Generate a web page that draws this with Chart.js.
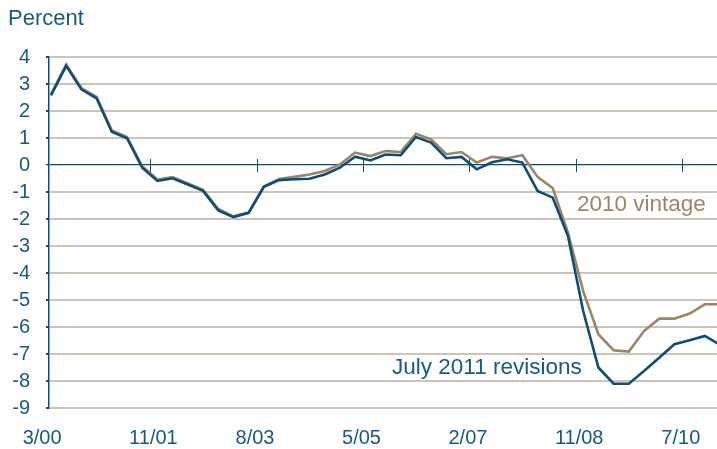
<!DOCTYPE html>
<html>
<head>
<meta charset="utf-8">
<script src="https://cdn.jsdelivr.net/npm/chart.js@4"></script>
<style>
  html, body { margin: 0; padding: 0; background: #fff; }
  #wrap { width: 717px; height: 449px; }
</style>
</head>
<body>
<div id="wrap"><canvas id="myChart" width="717" height="449"></canvas></div>
<script>
// 資料 (quarterly, index 0 = 3/00)
const revisions2011 = [2.58, 3.67, 2.80, 2.47, 1.23, 0.99, -0.10, -0.59, -0.49, -0.72,
  -0.96, -1.68, -1.93, -1.77, -0.81, -0.56, -0.53, -0.51, -0.35, -0.10,
  0.31, 0.17, 0.39, 0.36, 1.04, 0.83, 0.25, 0.30, -0.16, 0.10,
  0.21, 0.09, -0.96, -1.21, -2.63, -5.41, -7.50, -8.10, -8.10, -7.63,
  -7.14, -6.64, -6.49, -6.33, -6.66];
const vintage2010 = [2.62, 3.72, 2.85, 2.52, 1.28, 1.04, -0.05, -0.54, -0.45, -0.68,
  -0.92, -1.63, -1.90, -1.76, -0.80, -0.52, -0.44, -0.35, -0.22, 0.02,
  0.46, 0.33, 0.52, 0.48, 1.16, 0.95, 0.40, 0.48, 0.09, 0.30,
  0.25, 0.36, -0.44, -0.86, -2.50, -4.67, -6.27, -6.86, -6.91, -6.15,
  -5.69, -5.69, -5.50, -5.16, -5.16];
const xTickLabels = ['3/00', '11/01', '8/03', '5/05', '2/07', '11/08', '7/10'];
const xTickPos = [-0.48, 6.52, 13.52, 20.52, 27.52, 34.52, 41.52];
const yMin = -9;
const yMax = 4;

const blue = '#0d4d76';
const textBlue = '#175a85';
const tan = '#9c8567';
const gridTan = '#cdc3b9';
const font = '"Liberation Sans", Arial, sans-serif';

// 零線上的刻度 + 文字標註
const extras = {
  id: 'extras',
  beforeDatasetsDraw(chart) {
    const { ctx, chartArea, scales: { x, y } } = chart;
    const y0 = y.getPixelForValue(0);
    ctx.save();
    ctx.strokeStyle = blue;
    ctx.lineWidth = 1;
    xTickPos.forEach((v) => {
      const px = Math.round(x.getPixelForValue(v)) + 0.5;
      if (px <= chartArea.left + 2 || px > chartArea.right) return;
      ctx.beginPath();
      ctx.moveTo(px, y0 - 6);
      ctx.lineTo(px, y0 + 7);
      ctx.stroke();
    });
    ctx.restore();
  },
  afterDraw(chart) {
    const { ctx } = chart;
    ctx.save();
    ctx.textBaseline = 'middle';
    ctx.textAlign = 'left';
    ctx.fillStyle = textBlue;
    ctx.font = '22px ' + font;
    ctx.fillText('Percent', 8, 19);
    ctx.font = '22.5px ' + font;
    ctx.fillText('July 2011 revisions', 392, 368);
    ctx.fillStyle = tan;
    ctx.fillText('2010 vintage', 577, 205);
    ctx.restore();
  }
};

const ctx = document.getElementById('myChart').getContext('2d');
const chart = new Chart(ctx, {
  type: 'line',
  data: {
    datasets: [
      {
        label: 'July 2011 revisions',
        data: revisions2011.map((v, i) => ({ x: i, y: v })),
        borderColor: blue,
        borderWidth: 2.6,
        pointRadius: 0,
        tension: 0
      },
      {
        label: '2010 vintage',
        data: vintage2010.map((v, i) => ({ x: i, y: v })),
        borderColor: tan,
        borderWidth: 2.6,
        pointRadius: 0,
        tension: 0
      }
    ]
  },
  options: {
    responsive: false,
    animation: false,
    layout: { padding: { top: 57, left: 0, right: 0, bottom: 0 } },
    plugins: {
      legend: { display: false },
      tooltip: { enabled: false }
    },
    scales: {
      x: {
        type: 'linear',
        min: -0.13,
        max: 43.8,
        grid: { display: false },
        border: { display: false },
        afterBuildTicks: (scale) => {
          scale.ticks = xTickPos.map((v) => ({ value: v }));
        },
        afterFit: (scale) => {
          scale.height = 41;
          scale.paddingLeft = 0;
          scale.paddingRight = 0;
        },
        ticks: {
          autoSkip: false,
          maxRotation: 0,
          align: 'start',
          labelOffset: -21,
          padding: 10,
          color: textBlue,
          font: { family: font, size: 20 },
          callback: (v, i) => xTickLabels[i]
        }
      },
      y: {
        min: yMin,
        max: yMax,
        afterFit: (scale) => {
          scale.width = 49;
          scale.paddingTop = 0;
          scale.paddingBottom = 0;
        },
        border: { display: true, color: blue, width: 1.5 },
        grid: {
          color: (c) => (c.tick && c.tick.value === 0 ? blue : gridTan),
          lineWidth: (c) => (c.tick && c.tick.value === 0 ? 1.2 : 2),
          tickColor: blue,
          tickLength: 3,
          drawTicks: true
        },
        ticks: {
          stepSize: 1,
          padding: 16,
          color: textBlue,
          font: { family: font, size: 20 }
        }
      }
    }
  },
  plugins: [extras]
});
</script>
</body>
</html>
